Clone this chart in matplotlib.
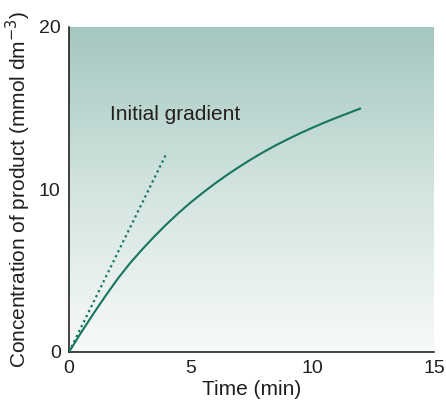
import matplotlib
matplotlib.use('Agg')
import matplotlib.pyplot as plt
import numpy as np
from matplotlib.colors import LinearSegmentedColormap

# values
time_min = [0, 0.5, 1, 1.5, 2, 2.5, 3, 3.5, 4, 4.5, 5, 5.5, 6, 6.5, 7, 7.5,
            8, 8.5, 9, 9.5, 10, 10.5, 11, 11.5, 12]
product = [0, 1.2, 2.35, 3.45, 4.5, 5.45, 6.3, 7.1, 7.85, 8.55, 9.2, 9.8,
           10.37, 10.9, 11.4, 11.87, 12.31, 12.72, 13.1, 13.46, 13.8, 14.12,
           14.42, 14.71, 15.0]
tangent_t = [0, 4.0]
tangent_y = [0, 12.2]
x_ticks = [0, 5, 10, 15]
y_ticks = [0, 10, 20]

plt.rcParams['font.family'] = ['Liberation Sans', 'DejaVu Sans']
text_col = '#231f20'
line_col = '#17755f'

fig = plt.figure(figsize=(4.46, 4.01), dpi=100)
ax = fig.add_axes([0.1547, 0.1222, 0.8183, 0.8105])

cmap = LinearSegmentedColormap.from_list('bg', ['#f7faf9', '#d3e4e0', '#a4c7bf'])
grad = np.linspace(0, 1, 256).reshape(-1, 1)
ax.imshow(grad, cmap=cmap, origin='lower', extent=[0, 15, 0, 20],
          aspect='auto', zorder=0)

ax.plot(time_min, product, color=line_col, lw=1.5, zorder=3,
        solid_capstyle='butt', solid_joinstyle='round')
ax.plot(tangent_t, tangent_y, color=line_col, lw=1.6, ls=(0, (1, 1.5)),
        zorder=3)
ax.text(1.68, 14.6, 'Initial gradient', fontsize=15, color=text_col,
        va='center')

ax.set_xlim(0, 15)
ax.set_ylim(0, 20)
ax.set_xticks(x_ticks)
ax.set_yticks(y_ticks)
ax.tick_params(length=0, labelsize=14, colors=text_col, pad=6)
for s in ['top', 'right']:
    ax.spines[s].set_visible(False)
for s in ['left', 'bottom']:
    ax.spines[s].set_color('#111111')
    ax.spines[s].set_linewidth(1.1)

ax.set_xlabel('Time (min)', fontsize=15, color=text_col, labelpad=2)
ax.set_ylabel('Concentration of product (mmol dm$^{-3}$)', fontsize=15,
              color=text_col, labelpad=4)

plt.savefig('out.png', dpi=100)
plt.close()
